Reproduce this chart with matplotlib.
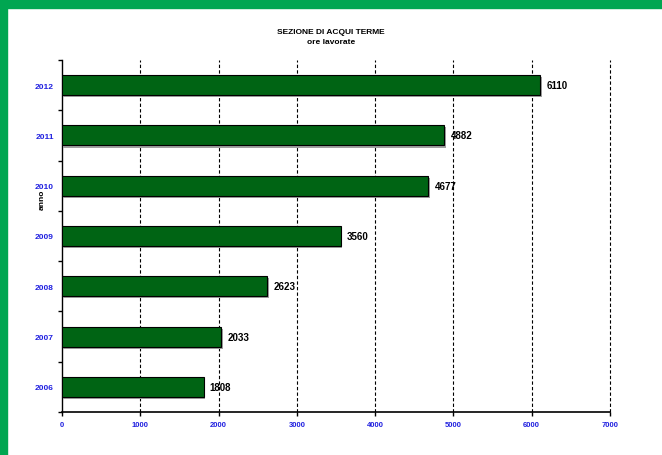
import numpy as np
import matplotlib.pyplot as plt
import matplotlib.patheffects as pe

anni = ['2006', '2007', '2008', '2009', '2010', '2011', '2012']
ore = [1808, 2033, 2623, 3560, 4677, 4882, 6110]

plt.rcParams['font.family'] = ['Liberation Sans', 'DejaVu Sans']

fig = plt.figure(figsize=(6.62, 4.56), dpi=100)
# green frame
fig.patches.append(plt.Rectangle((0, 1 - 9/456), 1, 9/456, transform=fig.transFigure,
                                 color='#00a651', zorder=0))
fig.patches.append(plt.Rectangle((0, 0), 7/662, 1, transform=fig.transFigure,
                                 color='#00a651', zorder=0))

ax = fig.add_axes([62/662, 1 - 413/456, 548/662, 352/456])
y = np.arange(len(anni))
bars = ax.barh(y, ore, height=0.4, color='#006414', edgecolor='black', linewidth=0.8, zorder=3)
for b in bars:
    b.set_path_effects([pe.SimplePatchShadow(offset=(1, -1.5), shadow_rgbFace='#a0a0a0', alpha=1), pe.Normal()])
for yi, v in zip(y, ore):
    ax.text(v + 80, yi, str(v), va='center', ha='left', fontsize=7, fontweight='bold', zorder=4)

ax.set_xlim(0, 7000)
ax.set_ylim(-0.5, len(anni) - 0.5)
xt = np.arange(0, 7001, 1000)
ax.set_xticks(xt)
ax.tick_params(axis='x', labelsize=5.5, labelcolor='#2020e0', length=3, width=1)
ax.set_yticks(y)
ax.set_yticklabels(anni)
ax.tick_params(axis='y', which='major', length=0, labelsize=6, labelcolor='#2020e0', pad=6)
ax.set_yticks(np.arange(-0.5, len(anni), 1), minor=True)
ax.tick_params(axis='y', which='minor', length=3, width=1)
for lbl in ax.get_xticklabels() + ax.get_yticklabels():
    lbl.set_fontweight('bold')

for s in ['top', 'right']:
    ax.spines[s].set_visible(False)
ax.spines['left'].set_linewidth(1)
ax.spines['bottom'].set_linewidth(1.2)
for x in xt[1:]:
    ax.axvline(x, linestyle=(0, (3, 2)), color='black', linewidth=0.8, zorder=1, clip_on=False)

fig.text(42/662, 1 - 200/456, 'anno', rotation=90, ha='center', va='center', fontsize=6, fontweight='bold')
fig.text(0.5, 1 - 33/456, 'SEZIONE DI ACQUI TERME', ha='center', va='center', fontsize=6, fontweight='bold')
fig.text(0.5, 1 - 42/456, 'ore lavorate', ha='center', va='center', fontsize=6, fontweight='bold')

fig.savefig('out.png', dpi=100)
